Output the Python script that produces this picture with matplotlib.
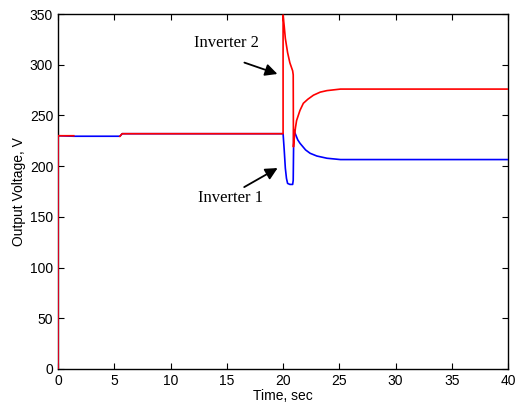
import numpy as np
import matplotlib.pyplot as plt

plt.rcParams['font.family'] = ['Liberation Sans', 'DejaVu Sans']

# Inverter 1 (blue)
t_inv1 = [0, 0, 1.4, 3.0, 5.5, 5.7, 8.0, 12.0, 16.0, 20.0, 20.1, 20.2, 20.3, 20.4,
          20.6, 20.85, 20.9, 20.95, 21.07, 21.3, 21.5, 22.0, 22.4, 23.0, 23.9, 25.1, 30.0, 40.0]
v_inv1 = [0, 230, 229.5, 229.5, 229.5, 232, 232, 232, 232, 232, 216, 198, 188, 183,
          182, 182, 186, 236, 232.4, 226, 222.6, 216, 212.7, 210, 207.8, 206.5, 206.5, 206.5]

# Inverter 2 (red)
t_inv2 = [0, 0, 1.4, 1.45, 5.5, 5.7, 8.0, 12.0, 16.0, 20.0, 20.0, 20.1, 20.2, 20.4,
          20.6, 20.85, 20.9, 20.92, 21.0, 21.1, 21.2, 21.5, 21.8, 22.2, 22.7, 23.3, 23.9, 25.1, 30.0, 40.0]
v_inv2 = [0, 230, 230, np.nan, 229.5, 232, 232, 232, 232, 232, 349, 338, 326, 312,
          302, 294, 290, 219, 228, 238, 245, 255, 262, 266, 270, 273, 274.5, 276, 276, 276]

fig = plt.figure(figsize=(5.18, 4.08), dpi=100)
ax = fig.add_axes([0.112, 0.0956, 0.869, 0.870])

ax.plot(t_inv1, v_inv1, color='#0000ff', lw=1.2, zorder=3)
ax.plot(t_inv2, v_inv2, color='#ff0000', lw=1.2, zorder=3)

ax.set_xlim(0, 40)
ax.set_ylim(0, 350)
ax.set_xticks(np.arange(0, 41, 5))
ax.set_yticks(np.arange(0, 351, 50))
ax.tick_params(direction='in', top=True, right=True, length=4, labelsize=10)
for sp in ax.spines.values():
    sp.set_color('black')
    sp.set_linewidth(1.0)

ax.set_xlabel('Time, sec', fontsize=10, labelpad=1)
ax.set_ylabel('Output Voltage, V', fontsize=10, labelpad=3)

arrow = dict(arrowstyle='-|>', color='black', lw=1.3, mutation_scale=18)
ax.annotate('Inverter 2', xy=(19.73, 290), xytext=(15.0, 321.5),
            fontsize=12, family='Liberation Serif', ha='center', va='center')
ax.annotate('', xy=(19.73, 290), xytext=(16.33, 303), arrowprops=arrow)
ax.annotate('Inverter 1', xy=(19.73, 199.5), xytext=(15.3, 169),
            fontsize=12, family='Liberation Serif', ha='center', va='center')
ax.annotate('', xy=(19.73, 199.5), xytext=(16.33, 178), arrowprops=arrow)

fig.savefig('out.png', dpi=100)
